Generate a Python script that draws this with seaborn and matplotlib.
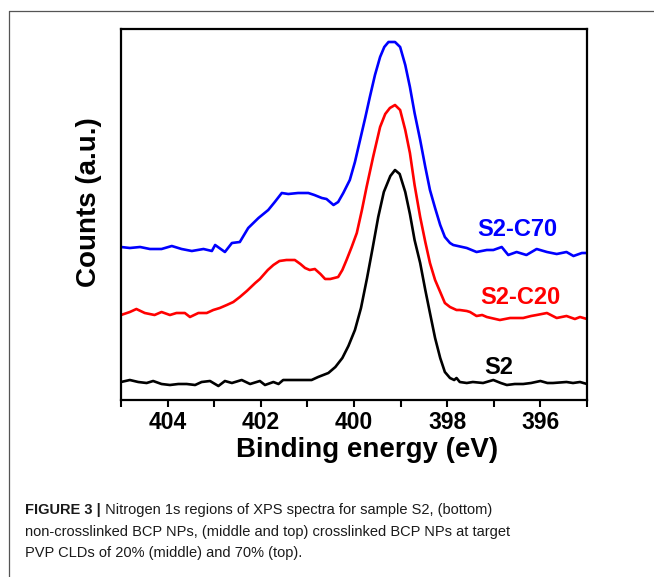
import numpy as np
import pandas as pd
import matplotlib
matplotlib.use('Agg')
import matplotlib.pyplot as plt
import seaborn as sns
from matplotlib.lines import Line2D

# S2 (bottom, black)
s2_ev = [405.0, 404.81, 404.63, 404.45, 404.31, 404.13, 403.95, 403.77, 403.59, 403.41,
         403.27, 403.09, 402.91, 402.77, 402.62, 402.41, 402.23, 402.02, 401.91, 401.73,
         401.62, 401.52, 401.27, 400.91, 400.77, 400.55, 400.40, 400.25, 400.12, 399.98,
         399.85, 399.72, 399.6, 399.48, 399.36, 399.22, 399.12, 399.02, 398.9, 398.8,
         398.7, 398.58, 398.47, 398.37, 398.26, 398.15, 398.05, 397.94, 397.85, 397.80,
         397.73, 397.58, 397.45, 397.23, 397.01, 396.85, 396.72, 396.55, 396.37, 396.2,
         396.0, 395.85, 395.73, 395.44, 395.3, 395.15, 395.0]
s2_counts = [18, 20, 18, 17, 19, 16, 15, 16, 16, 15,
             18, 19, 14, 19, 17, 20, 16, 19, 15, 18,
             16, 20, 20, 20, 23, 27, 33, 42, 54, 70,
             92, 122, 152, 183, 208, 224, 230, 226, 208, 186,
             160, 137, 110, 87, 62, 42, 28, 22, 20, 22,
             18, 17, 18, 17, 20, 17, 15, 16, 16, 17,
             19, 17, 17, 18, 17, 18, 16]

# S2-C20 (middle, red)
c20_ev = [405.0, 404.81, 404.67, 404.49, 404.28, 404.13, 403.95, 403.81, 403.63, 403.52,
          403.34, 403.16, 403.02, 402.88, 402.73, 402.59, 402.45, 402.30, 402.12, 402.02,
          401.85, 401.73, 401.6, 401.45, 401.27, 401.15, 401.05, 400.95, 400.84, 400.72,
          400.62, 400.51, 400.34, 400.25, 400.16, 400.05, 399.94, 399.83, 399.73, 399.59,
          399.44, 399.33, 399.23, 399.12, 399.01, 398.9, 398.80, 398.7, 398.58, 398.47,
          398.37, 398.26, 398.15, 398.05, 397.94, 397.8, 397.73, 397.58, 397.51, 397.37,
          397.25, 397.15, 396.87, 396.65, 396.37, 396.2, 396.08, 395.86, 395.65, 395.44,
          395.26, 395.15, 395.0]
c20_counts = [85, 88, 91, 87, 85, 88, 85, 87, 87, 83,
              87, 87, 90, 92, 95, 98, 103, 109, 117, 121,
              130, 135, 139, 140, 140, 136, 132, 130, 131, 126,
              121, 121, 123, 130, 140, 153, 167, 190, 213, 243,
              273, 286, 292, 295, 290, 270, 247, 215, 183, 158,
              137, 120, 108, 97, 93, 90, 90, 89, 88, 84,
              85, 83, 80, 82, 82, 84, 85, 87, 82, 84,
              81, 83, 81]

# S2-C70 (top, blue)
c70_ev = [405.0, 404.81, 404.59, 404.38, 404.13, 403.91, 403.70, 403.48, 403.23, 403.05,
          402.98, 402.77, 402.62, 402.45, 402.27, 402.05, 401.84, 401.7, 401.55, 401.41,
          401.20, 400.98, 400.85, 400.69, 400.59, 400.44, 400.34, 400.23, 400.09, 399.98,
          399.87, 399.76, 399.66, 399.55, 399.44, 399.35, 399.26, 399.12, 399.01, 398.9,
          398.80, 398.7, 398.58, 398.47, 398.37, 398.26, 398.15, 398.05, 397.94, 397.87,
          397.58, 397.37, 397.15, 397.01, 396.83, 396.69, 396.51, 396.30, 396.08, 395.86,
          395.65, 395.44, 395.29, 395.11, 395.0]
c70_counts = [153, 152, 153, 151, 151, 154, 151, 149, 151, 149,
              155, 148, 157, 158, 172, 182, 190, 198, 207, 206,
              207, 207, 205, 202, 201, 195, 198, 207, 220, 238,
              260, 282, 303, 325, 343, 353, 358, 358, 353, 335,
              313, 287, 260, 233, 210, 192, 175, 163, 157, 155,
              152, 148, 150, 150, 153, 145, 148, 145, 151, 148,
              146, 148, 144, 147, 147]

samples = ['S2', 'S2-C20', 'S2-C70']
colors = ['black', '#ff0000', '#0000ff']
label_ev = [396.9, 396.42, 396.49]
label_counts = [32, 102, 170]
major_ticks = [404, 402, 400, 398, 396]
minor_ticks = [405, 403, 401, 399, 397, 395]

caption_bold = 'FIGURE 3 |'
caption_lines = [' Nitrogen 1s regions of XPS spectra for sample S2, (bottom)',
                 'non-crosslinked BCP NPs, (middle and top) crosslinked BCP NPs at target',
                 'PVP CLDs of 20% (middle) and 70% (top).']

df = pd.concat([
    pd.DataFrame({'eV': s2_ev, 'counts': s2_counts, 'sample': 'S2'}),
    pd.DataFrame({'eV': c20_ev, 'counts': c20_counts, 'sample': 'S2-C20'}),
    pd.DataFrame({'eV': c70_ev, 'counts': c70_counts, 'sample': 'S2-C70'}),
])

sns.set_theme(style='ticks')
plt.rcParams['font.family'] = ['Liberation Sans', 'DejaVu Sans']
plt.rcParams['text.color'] = 'black'
plt.rcParams['axes.labelcolor'] = 'black'
plt.rcParams['xtick.color'] = 'black'

fig = plt.figure(figsize=(6.54, 5.77), dpi=100)
ax = fig.add_axes([121/654, 1 - 400/577, 466/654, 371/577])

sns.lineplot(data=df, x='eV', y='counts', hue='sample', hue_order=samples,
             palette=dict(zip(samples, colors)), estimator=None, legend=False,
             linewidth=1.9, ax=ax)

for s, c, xe, yc in zip(samples, colors, label_ev, label_counts):
    ax.text(xe, yc, s, color=c, fontsize=17, fontweight='bold', ha='center', va='center')

ax.set_xlim(405, 395)
ax.set_ylim(0, 371)
ax.set_xticks(major_ticks)
ax.set_xticks(minor_ticks, minor=True)
ax.set_yticks([])
ax.tick_params(axis='x', which='both', direction='out', length=5, width=1.5,
               labelsize=16.5, pad=3, color='black', labelcolor='black')
for lab in ax.get_xticklabels():
    lab.set_fontweight('bold')
for sp in ax.spines.values():
    sp.set_linewidth(1.6)
    sp.set_color('black')
ax.set_xlabel('Binding energy (eV)', fontsize=20, fontweight='bold', color='black')
ax.xaxis.set_label_coords(0.528, -0.101)
ax.set_ylabel('Counts (a.u.)', fontsize=20, fontweight='bold', color='black')
ax.yaxis.set_label_coords(-0.04, 0.534)

# outer frame (only top and left edges visible)
fig.add_artist(Line2D([9/654, 1], [1 - 11/577, 1 - 11/577], transform=fig.transFigure,
                      color='#555555', lw=0.9))
fig.add_artist(Line2D([9/654, 9/654], [0, 1 - 11/577], transform=fig.transFigure,
                      color='#555555', lw=0.9))

# caption
cap_x = 25/654
base_y = [514, 536, 557]
t = fig.text(cap_x, 1 - base_y[0]/577, caption_bold, fontsize=10.5, fontweight='bold',
             color='#1a1a1a', va='baseline', ha='left')
fig.canvas.draw()
bb = t.get_window_extent(renderer=fig.canvas.get_renderer())
fig.text(bb.x1/fig.bbox.width, 1 - base_y[0]/577, caption_lines[0], fontsize=10.5,
         color='#1a1a1a', va='baseline', ha='left')
for line, by in zip(caption_lines[1:], base_y[1:]):
    fig.text(cap_x, 1 - by/577, line, fontsize=10.5, color='#1a1a1a', va='baseline', ha='left')

fig.savefig('out.png', dpi=100)
